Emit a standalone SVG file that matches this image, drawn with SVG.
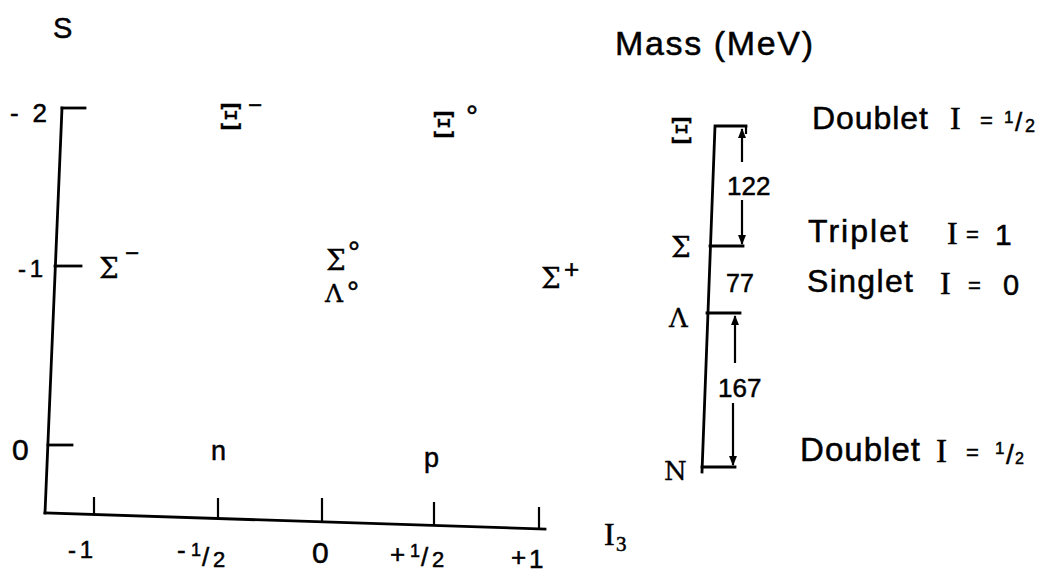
<svg xmlns="http://www.w3.org/2000/svg" width="1045" height="572" viewBox="0 0 1045 572">
<style>
.sans{font-family:"Liberation Sans",Arial,sans-serif;fill:#000;stroke:#000;stroke-width:0.5}
.serif{font-family:"Liberation Serif","Times New Roman",serif;fill:#000;stroke:#000;stroke-width:0.5}
.gk{font-family:"DejaVu Serif","Liberation Serif",serif;fill:#000;stroke:#000;stroke-width:0.3}
.ln{stroke:#000;stroke-width:2.8;fill:none;stroke-linecap:square}
.thin{stroke:#000;stroke-width:2.2;fill:none}
</style>
<defs>
<marker id="ah" viewBox="0 0 10 10" refX="9" refY="5" markerWidth="4.5" markerHeight="4.5" orient="auto-start-reverse" markerUnits="strokeWidth">
<path d="M0,1 L10,5 L0,9 z" fill="#000"/>
</marker>
</defs>
<rect width="1045" height="572" fill="#fff"/>

<g id="connectors">
<line class="ln" x1="62" y1="108" x2="45" y2="513"/>
<line class="ln" x1="45" y1="513" x2="545" y2="529"/>
<line class="ln" x1="62" y1="108" x2="85" y2="108"/>
<line class="ln" x1="55" y1="266" x2="81" y2="266"/>
<line class="ln" x1="48" y1="445" x2="72" y2="445"/>
<line class="thin" x1="94" y1="497" x2="94" y2="514"/>
<line class="thin" x1="218" y1="498" x2="218" y2="518"/>
<line class="thin" x1="322" y1="498" x2="322" y2="522"/>
<line class="thin" x1="434" y1="502" x2="434" y2="525"/>
<line class="thin" x1="539" y1="507" x2="539" y2="528"/>
<polyline class="ln" points="746,126 715,126 702,472"/>
<line class="ln" x1="710" y1="246" x2="743" y2="246"/>
<line class="ln" x1="707" y1="313" x2="740" y2="313"/>
<line class="ln" x1="702" y1="467" x2="735" y2="467"/>
<line class="thin" x1="746" y1="126" x2="746" y2="134"/>
<line class="thin" x1="742" y1="162" x2="742" y2="129" marker-end="url(#ah)"/>
<line class="thin" x1="742" y1="200" x2="742" y2="244" marker-end="url(#ah)"/>
<line class="thin" x1="735" y1="363" x2="735" y2="316" marker-end="url(#ah)"/>
<line class="thin" x1="733" y1="403" x2="733" y2="465" marker-end="url(#ah)"/>
</g>

<g id="axis-labels">
<text class="sans" x="53" y="38" font-size="29">S</text>
<text class="sans" x="10" y="122" font-size="26" textLength="37" lengthAdjust="spacing">-2</text>
<text class="sans" x="18" y="277" font-size="24" textLength="25" lengthAdjust="spacing">-1</text>
<text class="sans" x="12" y="460" font-size="30">0</text>
<text class="sans" x="68" y="558" font-size="24" textLength="25" lengthAdjust="spacing">-1</text>
<text class="sans" font-size="26"><tspan x="177" y="559">-</tspan><tspan x="191" y="556" font-size="18">1</tspan><tspan x="202" y="566">/</tspan><tspan x="213" y="567" font-size="22">2</tspan></text>
<text class="sans" x="312" y="563" font-size="30">0</text>
<text class="sans" font-size="26"><tspan x="390" y="563">+</tspan><tspan x="410" y="557" font-size="18">1</tspan><tspan x="421" y="566">/</tspan><tspan x="432" y="567" font-size="22">2</tspan></text>
<text class="sans" font-size="26"><tspan x="511" y="566">+</tspan><tspan x="529" y="568">1</tspan></text>
<text class="serif" font-size="32"><tspan x="604" y="545">I</tspan><tspan x="616" y="551" font-size="21">3</tspan></text>
</g>

<g id="xi-minus">
<text class="gk" x="219" y="129" font-size="34">Ξ<tspan x="248" y="113" class="sans" font-size="24">−</tspan></text>
</g>
<g id="xi-zero">
<text class="gk" x="432" y="137" font-size="34">Ξ<tspan x="466" y="126" class="sans" font-size="30">°</tspan></text>
</g>
<g id="sigma-minus">
<text class="gk" x="99" y="278" font-size="28">Σ<tspan x="125" y="261" class="sans" font-size="24">−</tspan></text>
</g>
<g id="sigma-zero">
<text class="gk" x="326" y="270" font-size="28">Σ<tspan x="348" y="262" class="sans" font-size="30">°</tspan></text>
</g>
<g id="lambda-zero">
<text class="gk" x="325" y="302" font-size="25">Λ<tspan x="347" y="302" class="sans" font-size="30">°</tspan></text>
</g>
<g id="sigma-plus">
<text class="gk" x="541" y="288" font-size="28">Σ<tspan x="564" y="278" class="sans" font-size="26">+</tspan></text>
</g>
<g id="neutron">
<text class="sans" x="211" y="460" font-size="27">n</text>
</g>
<g id="proton">
<text class="sans" x="424" y="467" font-size="27">p</text>
</g>

<g id="mass-title">
<text class="sans" x="615" y="55" font-size="34" textLength="198" lengthAdjust="spacing">Mass (MeV)</text>
</g>
<g id="mass-xi">
<text class="gk" x="670" y="143" font-size="33">Ξ</text>
<text class="sans" x="812" y="129" font-size="32" textLength="116" lengthAdjust="spacing">Doublet</text>
<text class="serif" x="950" y="129" font-size="32">I</text>
<text class="sans" x="980" y="128" font-size="22">=</text>
<text class="sans" font-size="22"><tspan x="1004" y="123" font-size="17">1</tspan><tspan x="1015" y="131" font-size="26">/</tspan><tspan x="1025" y="132" font-size="18">2</tspan></text>
</g>
<g id="mass-sigma">
<text class="gk" x="671" y="257" font-size="28">Σ</text>
<text class="sans" x="727" y="195" font-size="26">122</text>
<text class="sans" x="808" y="242" font-size="32" textLength="100" lengthAdjust="spacing">Triplet</text>
<text class="serif" x="947" y="244" font-size="32">I</text>
<text class="sans" x="966" y="242" font-size="22">=</text>
<text class="sans" x="995" y="245" font-size="30">1</text>
</g>
<g id="mass-lambda">
<text class="gk" x="669" y="327" font-size="26">Λ</text>
<text class="sans" x="726" y="292" font-size="25">77</text>
<text class="sans" x="807" y="292" font-size="32" textLength="106" lengthAdjust="spacing">Singlet</text>
<text class="serif" x="940" y="294" font-size="32">I</text>
<text class="sans" x="968" y="293" font-size="22">=</text>
<text class="sans" x="1003" y="295" font-size="29">0</text>
</g>
<g id="mass-n">
<text class="gk" x="664" y="480" font-size="26">N</text>
<text class="sans" x="718" y="397" font-size="26">167</text>
<text class="sans" x="800" y="461" font-size="33" textLength="120" lengthAdjust="spacing">Doublet</text>
<text class="serif" x="936" y="462" font-size="33">I</text>
<text class="sans" x="966" y="460" font-size="22">=</text>
<text class="sans" font-size="22"><tspan x="995" y="454" font-size="17">1</tspan><tspan x="1006" y="464" font-size="28">/</tspan><tspan x="1015" y="464" font-size="16">2</tspan></text>
</g>
</svg>
